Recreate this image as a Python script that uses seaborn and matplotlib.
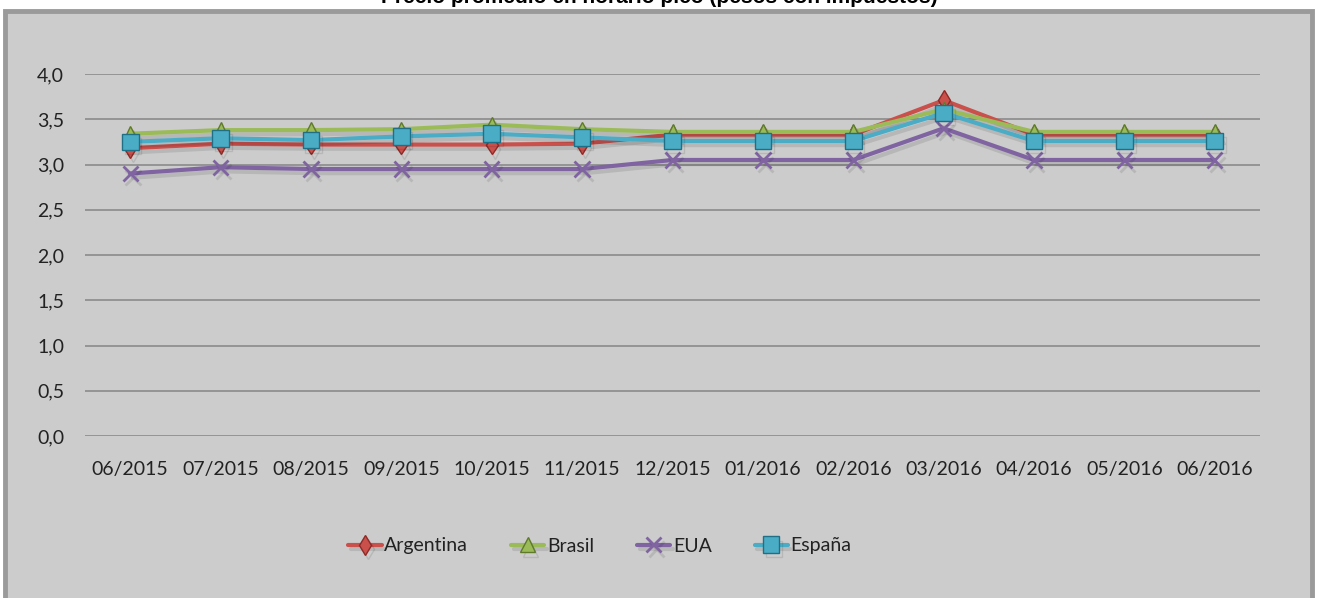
import matplotlib
matplotlib.use("Agg")
import matplotlib.pyplot as plt
import matplotlib.patheffects as pe
from matplotlib.patches import Rectangle
from matplotlib.ticker import FuncFormatter, MultipleLocator
import seaborn as sns
import pandas as pd

meses = ["06/2015", "07/2015", "08/2015", "09/2015", "10/2015", "11/2015", "12/2015",
         "01/2016", "02/2016", "03/2016", "04/2016", "05/2016", "06/2016"]
argentina = [3.18, 3.23, 3.22, 3.22, 3.22, 3.23, 3.33, 3.33, 3.33, 3.71, 3.33, 3.33, 3.33]
brasil = [3.34, 3.38, 3.38, 3.39, 3.44, 3.39, 3.36, 3.36, 3.36, 3.61, 3.36, 3.36, 3.36]
eua = [2.90, 2.97, 2.95, 2.95, 2.95, 2.95, 3.05, 3.05, 3.05, 3.40, 3.05, 3.05, 3.05]
espana = [3.25, 3.29, 3.27, 3.31, 3.34, 3.30, 3.26, 3.26, 3.26, 3.57, 3.26, 3.26, 3.26]
series = ["Argentina", "Brasil", "EUA", "España"]
titulo = "Precio promedio en horario pico (pesos con impuestos)"

datos = {"Argentina": argentina, "Brasil": brasil, "EUA": eua, "España": espana}

sns.set_theme(style="white")
plt.rcParams["font.family"] = ["Liberation Sans Narrow", "Lato", "DejaVu Sans"]

BG = "#CCCCCC"
fig = plt.figure(figsize=(13.18, 5.98), dpi=100, facecolor="white")
W, H = 1318, 598
fig.patches.append(Rectangle((5 / W, -0.01), (1312 - 5) / W, 1 - 11 / H + 0.01,
                             transform=fig.transFigure, facecolor=BG,
                             edgecolor="#9a9a9a", linewidth=3.5, zorder=-10))

ax = fig.add_axes([85 / W, 1 - 436 / H, (1260 - 85) / W, (436 - 74) / H])
ax.set_facecolor(BG)
ax.patch.set_alpha(0)

palette = {"Argentina": "#C9504B", "Brasil": "#9BBB59", "EUA": "#8064A2", "España": "#4BACC6"}
markers = {"Argentina": "d", "Brasil": "^", "EUA": "x", "España": "s"}
msize = {"Argentina": 10, "Brasil": 11, "EUA": 11, "España": 12}
edge_cols = {"Argentina": "#8e2a27", "Brasil": "#5f7a2a", "EUA": "#8064A2", "España": "#1f6f86"}
shadow = [pe.SimpleLineShadow(offset=(2, -3), shadow_color="black", alpha=0.10), pe.Normal()]

for name in series:
    df = pd.DataFrame({"mes": meses, "valor": datos[name]})
    sns.lineplot(data=df, x="mes", y="valor", sort=False, color=palette[name],
                 marker=markers[name], markersize=msize[name],
                 markeredgecolor=edge_cols[name],
                 markeredgewidth=2 if name == "EUA" else 1,
                 linewidth=3, ax=ax, label=name)

for line in ax.lines:
    line.set_path_effects(shadow)

ax.set_xlim(-0.5, len(meses) - 0.5)
ax.set_ylim(0, 4.0)
ax.yaxis.set_major_locator(MultipleLocator(0.5))
ax.yaxis.set_major_formatter(FuncFormatter(lambda v, p: f"{v:.1f}".replace(".", ",")))
ax.grid(axis="y", color="#8a8a8a", linewidth=1.2)
ax.grid(axis="x", visible=False)
for s in ax.spines.values():
    s.set_visible(False)
ax.tick_params(axis="both", length=0, labelsize=14, colors="#222222")
ax.tick_params(axis="y", pad=15)
ax.tick_params(axis="x", pad=18)
ax.set_xlabel("")
ax.set_ylabel("")

handles, labels = ax.get_legend_handles_labels()
if ax.legend_ is not None:
    ax.legend_.remove()
leg = fig.legend(handles, labels, loc="center", bbox_to_anchor=(600 / W, 1 - 546 / H),
                 ncol=4, frameon=False, fontsize=14, columnspacing=2.2,
                 handlelength=1.7, handletextpad=0.15)
for t in leg.get_texts():
    t.set_color("#222222")

fig.text(0.5, 1 - 3 / H, titulo, ha="center", va="baseline", fontsize=15,
         fontweight="bold", family=["Liberation Sans", "DejaVu Sans"], color="black")

fig.savefig("out.png", dpi=100, facecolor="white")
